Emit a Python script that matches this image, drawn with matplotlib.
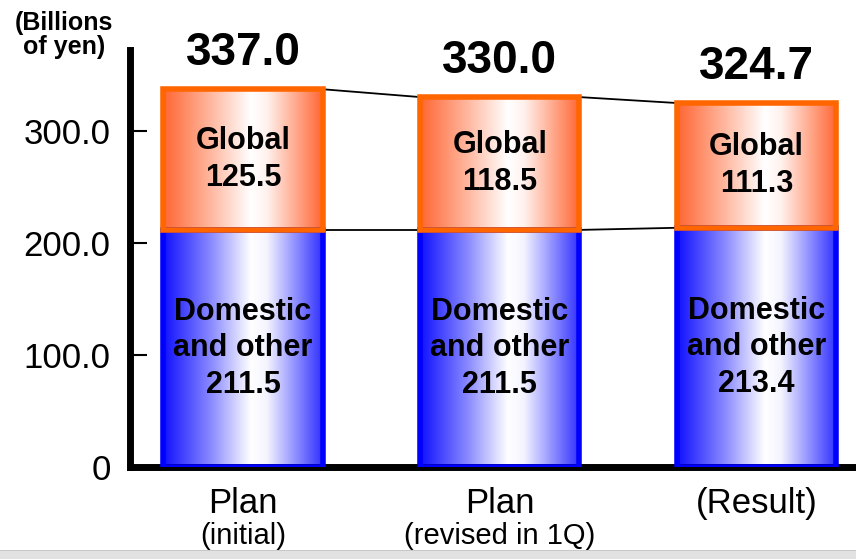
import numpy as np
import matplotlib
matplotlib.use("Agg")
import matplotlib.pyplot as plt
from matplotlib.colors import LinearSegmentedColormap
from matplotlib.patches import Rectangle

plt.rcParams['font.family'] = ['Liberation Sans', 'DejaVu Sans']

categories = ["Plan", "Plan", "(Result)"]
subcategories = ["(initial)", "(revised in 1Q)", ""]
domestic = [211.5, 211.5, 213.4]
global_ = [125.5, 118.5, 111.3]
totals = [337.0, 330.0, 324.7]
yticks = [0, 100, 200, 300]
yticklabels = ["0", "100.0", "200.0", "300.0"]

blue_cmap = LinearSegmentedColormap.from_list(
    "blue_grad", [(0.0, "#1010ff"), (0.3, "#8a8aff"), (0.55, "#ffffff"),
                  (0.65, "#f4f4ff"), (1.0, "#3030ff")])
orange_cmap = LinearSegmentedColormap.from_list(
    "orange_grad", [(0.0, "#ff6633"), (0.3, "#ffb8a0"), (0.55, "#ffffff"),
                    (0.65, "#fff2ee"), (1.0, "#ff6633")])
grad = np.linspace(0, 1, 256).reshape(1, -1)

fig = plt.figure(figsize=(8.56, 5.59), dpi=100)
ax = fig.add_axes([130 / 856, 92 / 559, 723 / 856, 417 / 559])

x = np.arange(len(categories))
width = 0.62


def grad_bar(xc, bottom, height, cmap, edge):
    ax.imshow(grad, cmap=cmap, aspect='auto', interpolation='bilinear',
              extent=(xc - width / 2, xc + width / 2, bottom, bottom + height),
              zorder=2)
    ax.add_patch(Rectangle((xc - width / 2, bottom), width, height,
                           facecolor='none', edgecolor=edge, lw=4, zorder=3))


for i in range(len(categories)):
    grad_bar(x[i], 0, domestic[i], blue_cmap, "#0000ff")
    grad_bar(x[i], domestic[i], global_[i], orange_cmap, "#ff6600")
    ax.text(x[i], domestic[i] / 2, f"Domestic\nand other\n{domestic[i]:.1f}",
            ha='center', va='center', fontsize=22, fontweight='bold',
            linespacing=1.28, zorder=4)
    ax.text(x[i], domestic[i] + global_[i] / 2, f"Global\n{global_[i]:.1f}",
            ha='center', va='center', fontsize=22, fontweight='bold',
            linespacing=1.3, zorder=4)
    ax.annotate(f"{totals[i]:.1f}", (x[i], totals[i]), xytext=(0, 10),
                textcoords='offset points', ha='center', va='bottom',
                fontsize=33, fontweight='bold', zorder=4)

# connector lines between bars
for i in range(len(categories) - 1):
    ax.plot([x[i] + width / 2, x[i + 1] - width / 2], [totals[i], totals[i + 1]],
            color='black', lw=1.3, zorder=1)
    ax.plot([x[i] + width / 2, x[i + 1] - width / 2], [domestic[i], domestic[i + 1]],
            color='black', lw=1.3, zorder=1)

ax.set_xlim(-0.44, 2.376)
ax.set_ylim(0, 372)
ax.set_yticks(yticks)
ax.set_yticklabels(yticklabels, fontsize=25)
ax.tick_params(axis='y', direction='in', length=12, width=1.5, pad=14)
ax.set_xticks([])
for s in ['top', 'right']:
    ax.spines[s].set_visible(False)
ax.spines['left'].set_linewidth(5)
ax.spines['bottom'].set_linewidth(5)

for i in range(len(categories)):
    ax.text(x[i], -18, categories[i], ha='center', va='top', fontsize=25)
    if subcategories[i]:
        ax.text(x[i], -49, subcategories[i], ha='center', va='top', fontsize=21)

fig.text(64 / 856, 1 - 35 / 559, "(Billions\nof yen)", ha='center', va='center',
         fontsize=18, fontweight='bold', linespacing=0.95)

# light gray strip along bottom edge
fig.patches.append(Rectangle((0, 0), 1, 8 / 559, transform=fig.transFigure,
                             facecolor='#e2e2e2', edgecolor='none'))
fig.patches.append(Rectangle((0, 8 / 559), 1, 1 / 559, transform=fig.transFigure,
                             facecolor='#c8c8c8', edgecolor='none'))

fig.savefig("out.png", dpi=100)
